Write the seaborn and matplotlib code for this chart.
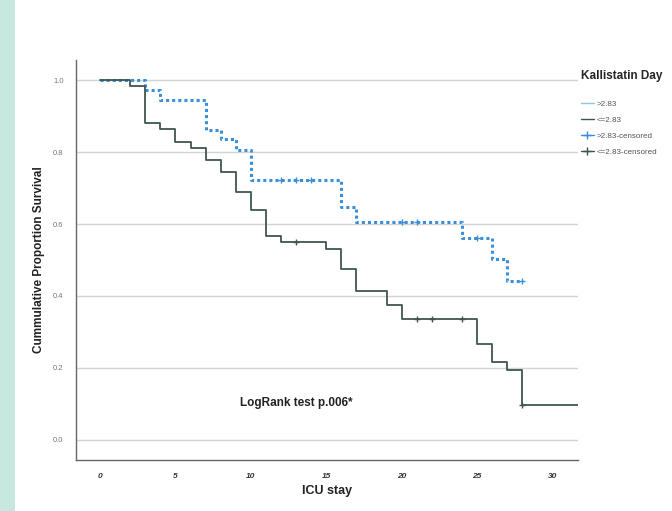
import numpy as np
import pandas as pd
import matplotlib
matplotlib.use("Agg")
import matplotlib.pyplot as plt
import seaborn as sns
from matplotlib.lines import Line2D
from matplotlib.patches import Rectangle

# curvas de Kaplan-Meier
alto_tempo = [0, 3, 4, 7, 8, 9, 10, 16, 17, 24, 26, 27, 28]
alto_surv = [1.0, 0.972, 0.944, 0.861, 0.836, 0.806, 0.722, 0.646, 0.606, 0.560, 0.502, 0.442, 0.442]
alto_cens_t = [12, 13, 14, 20, 21, 25, 28]
alto_cens_s = [0.722, 0.722, 0.722, 0.606, 0.606, 0.560, 0.442]

baixo_tempo = [0, 2, 3, 4, 5, 6, 7, 8, 9, 10, 11, 12, 15, 16, 17, 19, 20, 25, 26, 27, 28, 31.7]
baixo_surv = [1.0, 0.985, 0.882, 0.863, 0.829, 0.81, 0.778, 0.744, 0.69, 0.639, 0.568, 0.551,
              0.531, 0.476, 0.415, 0.375, 0.335, 0.267, 0.217, 0.194, 0.097, 0.097]
baixo_cens_t = [13, 21, 22, 24, 28]
baixo_cens_s = [0.551, 0.335, 0.335, 0.335, 0.097]

x_ticks = [0, 5, 10, 15, 20, 25, 30]
y_ticks = [0.0, 0.2, 0.4, 0.6, 0.8, 1.0]
rotulos_legenda = [">2.83", "<=2.83", ">2.83-censored", "<=2.83-censored"]

azul = "#3b8fd9"
azul_claro = "#8cc4ea"
escuro = "#3f5650"
cinza_grade = "#d4d4d4"

sns.set_theme(style="white")
plt.rcParams['font.family'] = ['Liberation Sans', 'DejaVu Sans']

fig = plt.figure(figsize=(6.72, 5.11), dpi=100)
fig.patches.append(Rectangle((0, 0), 15 / 672, 1, transform=fig.transFigure,
                             facecolor="#c6e8df", edgecolor="none", zorder=0))
ax = fig.add_axes([76 / 672, 51 / 511, 502 / 672, 400 / 511])

df_alto = pd.DataFrame({'t': alto_tempo, 's': alto_surv})
df_baixo = pd.DataFrame({'t': baixo_tempo, 's': baixo_surv})

sns.lineplot(data=df_alto, x='t', y='s', ax=ax, color=azul, linewidth=2.2,
             linestyle=(0, (1, 1)), drawstyle='steps-post', estimator=None, sort=False, zorder=3)
sns.lineplot(data=df_baixo, x='t', y='s', ax=ax, color=escuro, linewidth=1.3,
             drawstyle='steps-post', estimator=None, sort=False, zorder=4)

ax.scatter(alto_cens_t, alto_cens_s, marker='+', s=22, color=azul, linewidths=1, zorder=5)
ax.scatter(baixo_cens_t, baixo_cens_s, marker='+', s=22, color=escuro, linewidths=1, zorder=5)

ax.set_xlim(-1.6, 31.7)
ax.set_ylim(-0.056, 1.056)
ax.set_xticks(x_ticks)
ax.set_yticks(y_ticks)
ax.set_yticklabels([f"{v:.1f}" for v in y_ticks], fontsize=5.5, color="#777777")
ax.set_xticklabels([str(v) for v in x_ticks], fontsize=6, fontweight='bold',
                   fontstyle='italic', color="#333333")
ax.tick_params(axis='both', length=0, pad=9)
ax.yaxis.grid(True, color=cinza_grade, linewidth=1)
ax.set_axisbelow(True)
sns.despine(ax=ax)
for lado in ['left', 'bottom']:
    ax.spines[lado].set_color("#666666")
    ax.spines[lado].set_linewidth(1)

ax.set_xlabel('ICU stay', fontsize=9, fontweight='bold', color="#222222", labelpad=4)
ax.set_ylabel('Cummulative Proportion Survival', fontsize=8.5, fontweight='bold',
              color="#222222", labelpad=6)

ax.text(13.0, 0.103, 'LogRank test p.006*', fontsize=8.5, fontweight='bold',
        color="#222222", ha='center', va='center')

alcas = [Line2D([], [], color=azul_claro, lw=1),
         Line2D([], [], color=escuro, lw=1),
         Line2D([], [], color=azul, lw=1, marker='+', markersize=6),
         Line2D([], [], color=escuro, lw=1, marker='+', markersize=6)]
leg = fig.legend(alcas, rotulos_legenda, loc='upper left',
                 bbox_to_anchor=(581 / 672, 1 - 70 / 511), frameon=False,
                 title='Kallistatin Day', fontsize=5.8, handlelength=1.6,
                 handletextpad=0.3, labelspacing=1.05, borderaxespad=0,
                 borderpad=0, labelcolor="#555555")
leg.get_title().set_fontweight('bold')
leg.get_title().set_fontsize(8.5)
leg._legend_box.align = "left"
leg._legend_box.sep = 13

fig.savefig('out.png', dpi=100)
